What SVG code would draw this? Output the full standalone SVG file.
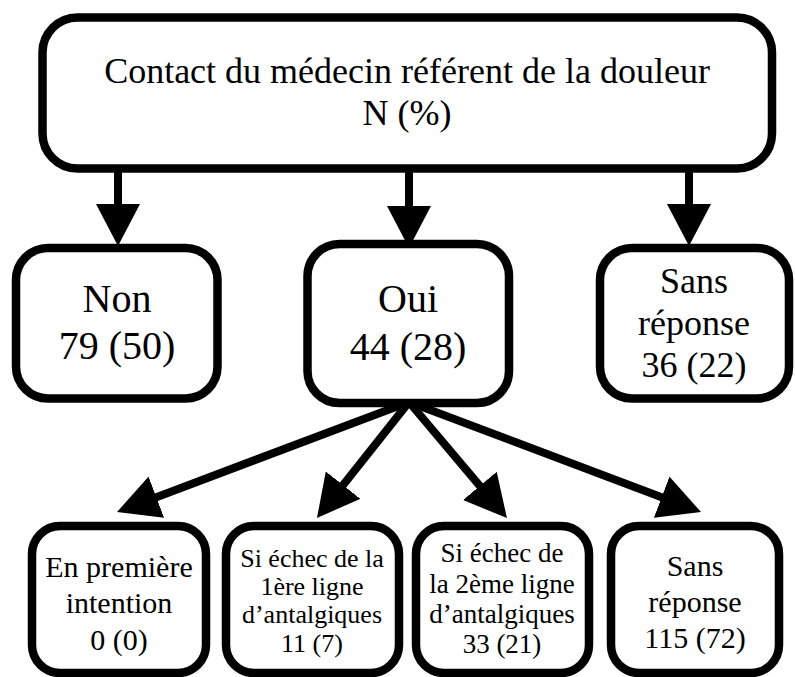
<svg xmlns="http://www.w3.org/2000/svg" width="795" height="677" viewBox="0 0 795 677">
  <style>
    .box { fill: #ffffff; stroke: #000000; stroke-width: 8.5; }
    text { font-family: 'Liberation Serif', 'DejaVu Serif', serif; fill: #000000; text-anchor: middle; }
    .conn { stroke: #000000; stroke-width: 8; fill: none; marker-end: url(#head); }
  </style>
  <defs>
    <marker id="head" markerUnits="userSpaceOnUse" markerWidth="42" markerHeight="44" viewBox="0 0 42 44" refX="12" refY="22" orient="auto">
      <path d="M0,0 L42,22 L0,44 Z" fill="#000000"/>
    </marker>
  </defs>
  <rect width="795" height="677" fill="#ffffff"/>

  <g id="connectors">
    <line class="conn" x1="118" y1="163" x2="118" y2="216"/>
    <line class="conn" x1="409" y1="163" x2="409" y2="218"/>
    <line class="conn" x1="689" y1="163" x2="689" y2="216"/>
    <line class="conn" x1="409" y1="402" x2="145.1" y2="501.4"/>
    <line class="conn" x1="409" y1="402" x2="335.6" y2="494.5"/>
    <line class="conn" x1="409" y1="402" x2="487.6" y2="495.1"/>
    <line class="conn" x1="409" y1="402" x2="672.9" y2="501.4"/>
  </g>

  <g id="top" font-family="Liberation Serif, serif">
    <rect class="box" x="42.5" y="17.5" width="729.5" height="151" rx="35"/>
    <text font-size="36" x="407" y="83">Contact du médecin référent de la douleur</text>
    <text font-size="36" x="407" y="125">N (%)</text>
  </g>

  <g id="non" font-family="Liberation Serif, serif">
    <rect class="box" x="16" y="248" width="201.5" height="150.5" rx="32"/>
    <text font-size="40" x="117" y="312">Non</text>
    <text font-size="40" x="117" y="359">79 (50)</text>
  </g>

  <g id="oui" font-family="Liberation Serif, serif">
    <rect class="box" x="307.5" y="244" width="201.5" height="159" rx="32"/>
    <text font-size="40" x="408" y="312">Oui</text>
    <text font-size="40" x="408" y="360">44 (28)</text>
  </g>

  <g id="sans1" font-family="Liberation Serif, serif">
    <rect class="box" x="600" y="248" width="189" height="150.5" rx="32"/>
    <text font-size="36" x="694" y="293">Sans</text>
    <text font-size="36" x="694" y="335">réponse</text>
    <text font-size="36" x="694" y="377">36 (22)</text>
  </g>

  <g id="premiere" font-family="Liberation Serif, serif">
    <rect class="box" x="32" y="526" width="174" height="147" rx="28"/>
    <text font-size="30" x="119" y="577">En première</text>
    <text font-size="30" x="119" y="613">intention</text>
    <text font-size="30" x="119" y="650">0 (0)</text>
  </g>

  <g id="ligne1" font-family="Liberation Serif, serif">
    <rect class="box" x="226" y="526" width="173" height="147" rx="28"/>
    <text font-size="26" x="312" y="567">Si échec de la</text>
    <text font-size="26" x="312" y="595">1ère ligne</text>
    <text font-size="26" x="312" y="623">d’antalgiques</text>
    <text font-size="26" x="312" y="652">11 (7)</text>
  </g>

  <g id="ligne2" font-family="Liberation Serif, serif">
    <rect class="box" x="416" y="526" width="173" height="147" rx="28"/>
    <text font-size="27" x="502" y="562">Si échec de</text>
    <text font-size="27" x="502" y="593">la 2ème ligne</text>
    <text font-size="27" x="502" y="623">d’antalgiques</text>
    <text font-size="27" x="502" y="653">33 (21)</text>
  </g>

  <g id="sans2" font-family="Liberation Serif, serif">
    <rect class="box" x="611" y="526" width="168" height="147" rx="28"/>
    <text font-size="30" x="695" y="576">Sans</text>
    <text font-size="30" x="695" y="612">réponse</text>
    <text font-size="30" x="695" y="648">115 (72)</text>
  </g>
</svg>
